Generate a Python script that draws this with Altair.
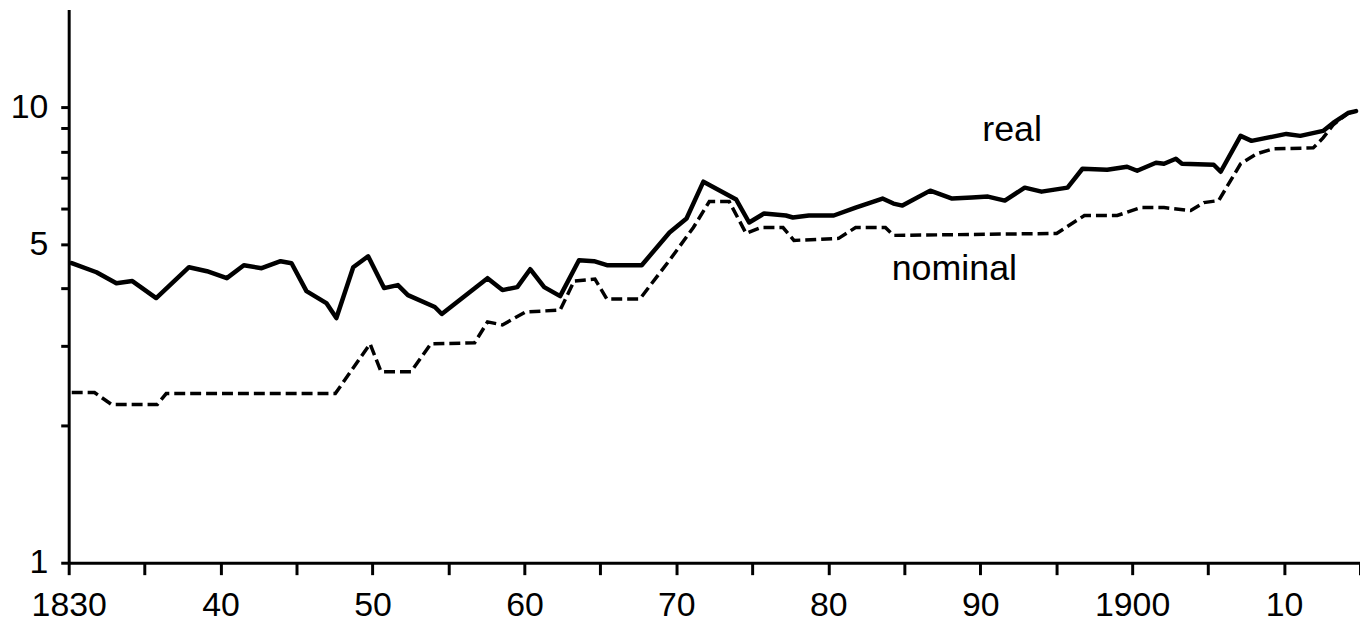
import altair as alt
import pandas as pd

# --- data (year, index value on a log scale) ---
real_year = [1830.2, 1831.83, 1833.14, 1834.19, 1835.76, 1837.92, 1839.10, 1840.41, 1841.53, 1842.70,
             1843.95, 1844.67, 1845.65, 1846.96, 1847.62, 1848.73, 1849.71, 1850.76, 1851.67, 1852.33,
             1854.10, 1854.56, 1857.57, 1858.55, 1859.53, 1860.38, 1861.30, 1862.35, 1863.59, 1864.58,
             1865.43, 1867.72, 1869.55, 1870.67, 1871.78, 1873.94, 1874.79, 1875.77, 1877.21, 1877.67,
             1878.72, 1880.36, 1881.80, 1883.57, 1884.29, 1884.88, 1886.71, 1888.15, 1889.46, 1890.51,
             1891.62, 1892.93, 1894.04, 1895.75, 1896.73, 1898.36, 1899.67, 1900.33, 1901.57, 1902.10,
             1902.88, 1903.28, 1905.37, 1905.83, 1907.14, 1907.86, 1910.15, 1911.07, 1912.57, 1913.23,
             1914.21, 1914.74]
real_value = [4.55, 4.345, 4.11, 4.155, 3.813, 4.457, 4.368, 4.217, 4.502, 4.435,
              4.594, 4.548, 3.950, 3.718, 3.447, 4.457, 4.710, 4.010, 4.071, 3.870,
              3.644, 3.518, 4.217, 3.970, 4.030, 4.412, 4.030, 3.851, 4.617, 4.594,
              4.502, 4.502, 5.313, 5.702, 6.869, 6.275, 5.588, 5.847, 5.789, 5.731,
              5.789, 5.789, 6.026, 6.306, 6.149, 6.087, 6.565, 6.306, 6.338, 6.370,
              6.243, 6.665, 6.531, 6.665, 7.333, 7.296, 7.407, 7.259, 7.558, 7.520,
              7.711, 7.520, 7.482, 7.222, 8.659, 8.444, 8.745, 8.659, 8.879, 9.243,
              9.719, 9.817]

nominal_year = [1830.2, 1831.70, 1832.82, 1835.83, 1836.42, 1847.55, 1849.84, 1850.56, 1852.53, 1853.84,
                1856.72, 1857.57, 1858.55, 1860.06, 1862.35, 1863.27, 1864.64, 1865.43, 1867.59, 1869.55,
                1871.12, 1872.17, 1873.48, 1874.59, 1875.58, 1877.02, 1877.74, 1880.68, 1881.80, 1883.76,
                1884.29, 1895.03, 1896.86, 1899.02, 1900.59, 1902.10, 1903.86, 1904.72, 1905.70, 1907.14,
                1908.19, 1909.30, 1911.92, 1912.57, 1913.23, 1914.21, 1914.74]
nominal_value = [2.364, 2.364, 2.226, 2.226, 2.352, 2.352, 3.025, 2.628, 2.628, 3.025,
                 3.040, 3.380, 3.329, 3.553, 3.589, 4.155, 4.196, 3.793, 3.793, 4.617,
                 5.448, 6.211, 6.211, 5.287, 5.448, 5.448, 5.104, 5.156, 5.448, 5.448,
                 5.235, 5.287, 5.789, 5.789, 6.026, 6.026, 5.936, 6.180, 6.243, 7.520,
                 7.907, 8.110, 8.150, 8.570, 9.149, 9.719, 9.817]

x_tick_values = list(range(1830, 1916, 5))
x_tick_labels = ["1830", "", "40", "", "50", "", "60", "", "70", "", "80", "", "90", "",
                 "1900", "", "10", ""]
y_tick_values = [1, 2, 3, 4, 5, 6, 7, 8, 9, 10]
y_tick_labels = ["1", "", "", "", "5", "", "", "", "", "10"]

label_text = ["real", "nominal"]
label_year = [1892.1, 1888.3]
label_value = [8.44, 4.17]

FONT = "Liberation Sans"


def label_expr(values, labels):
    expr = "''"
    for v, lab in reversed(list(zip(values, labels))):
        if lab:
            expr = f"datum.value == {v} ? '{lab}' : ({expr})"
    return expr


real_df = pd.DataFrame({"year": real_year, "value": real_value})
nominal_df = pd.DataFrame({"year": nominal_year, "value": nominal_value})
label_df = pd.DataFrame({"year": label_year, "value": label_value, "label": label_text})

x_enc = alt.X(
    "year:Q",
    scale=alt.Scale(domain=[1830, 1915], nice=False, zero=False),
    axis=alt.Axis(
        values=x_tick_values,
        labelExpr=label_expr(x_tick_values, x_tick_labels),
        title=None,
        tickSize=12,
        labelPadding=14,
        labelFlush=False,
        labelOverlap=False,
        labelFontSize=34,
    ),
)
y_enc = alt.Y(
    "value:Q",
    scale=alt.Scale(type="log", domain=[1, 16.4], nice=False),
    axis=alt.Axis(
        values=y_tick_values,
        labelExpr=label_expr(y_tick_values, y_tick_labels),
        title=None,
        tickSize=8,
        labelPadding=13,
        labelFlush=False,
        labelOverlap=False,
        labelFontSize=34,
    ),
)

real_line = alt.Chart(real_df).mark_line(
    color="black", strokeWidth=4.5, strokeJoin="round", strokeCap="round"
).encode(x=x_enc, y=y_enc)

nominal_line = alt.Chart(nominal_df).mark_line(
    color="black", strokeWidth=3.5, strokeDash=[11, 5]
).encode(x="year:Q", y="value:Q")

labels = alt.Chart(label_df).mark_text(
    font=FONT, fontSize=36, align="center", baseline="alphabetic", color="black"
).encode(x="year:Q", y="value:Q", text="label:N")

chart = (
    alt.layer(nominal_line, real_line, labels)
    .properties(
        width=1298,
        height=556,
        autosize=alt.AutoSizeParams(type="none"),
        padding={"left": 61, "top": 0, "right": 0, "bottom": 60},
        background="white",
    )
    .configure_axis(
        grid=False,
        domainColor="black",
        domainWidth=3,
        tickColor="black",
        tickWidth=3,
        labelColor="black",
        labelFont=FONT,
    )
    .configure_view(stroke=None)
)

chart.save("out.html", embed_options={"renderer": "svg", "actions": False})
